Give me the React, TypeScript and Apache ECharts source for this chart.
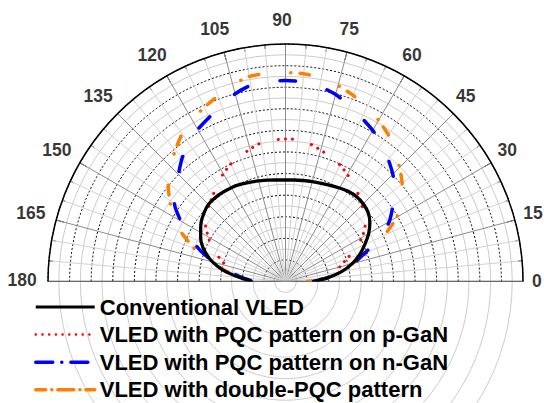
import React, { useEffect, useRef } from 'react';
import * as echarts from 'echarts';

// Angles (deg) at which the intensity curves are read
const anglesFull = [0, 5, 10, 15, 20, 25, 30, 35, 40, 45, 50, 55, 60, 65, 70, 75, 80, 85, 90,
  95, 100, 105, 110, 115, 120, 125, 130, 135, 140, 145, 150, 155, 160, 165, 170, 175, 180];
const anglesP = [15, 20, 25, 30, 35, 40, 45, 50, 55, 60, 65, 70, 75, 80, 85, 90,
  95, 100, 105, 110, 115, 120, 125, 130, 135, 140, 145, 150, 155, 160, 165];

// Relative intensity (radial units, outer ring = 11)
const conventional = [1.25, 1.95, 2.64, 3.2, 3.66, 4.05, 4.45, 4.77, 4.99, 5.09, 5.13, 5.09, 5.0,
  4.91, 4.84, 4.79, 4.75, 4.72, 4.7, 4.72, 4.77, 4.82, 4.89, 4.96, 5.02, 5.05, 5.07, 5.05, 4.93,
  4.77, 4.54, 4.31, 3.95, 3.5, 2.9, 2.13, 1.53];
const pGaN = [2.6, 3.0, 3.55, 4.1, 4.5, 4.8, 5.0, 5.25, 5.5, 5.73, 5.96, 6.13, 6.3, 6.48, 6.6, 6.6,
  6.58, 6.52, 6.35, 6.15, 6.0, 5.76, 5.5, 5.22, 5.0, 4.8, 4.52, 4.13, 3.75, 3.28, 2.85];
const nGaN = [1.3, 1.95, 2.6, 3.27, 3.95, 4.85, 5.55, 6.07, 6.6, 7.03, 7.4, 7.78, 8.08, 8.36, 8.67,
  8.97, 9.17, 9.28, 9.31, 9.3, 9.23, 9.0, 8.66, 8.38, 8.13, 7.83, 7.45, 7.02, 6.66, 6.28, 5.6, 4.9,
  4.2, 3.42, 2.65, 2.0, 1.49];
const doublePQC = [1.05, 1.75, 2.5, 3.2, 4.2, 5.05, 5.95, 6.5, 7.05, 7.47, 7.88, 8.3, 8.62, 8.9, 9.17,
  9.4, 9.57, 9.66, 9.68, 9.68, 9.64, 9.44, 9.15, 8.9, 8.65, 8.35, 7.94, 7.55, 7.1, 6.55, 6.0, 5.3,
  4.5, 3.65, 2.8, 1.95, 1.34];

// Angle tick labels (placed on a ring just outside the plot)
const tickAngles = [0, 15, 30, 45, 60, 75, 90, 105, 120, 135, 150, 165, 180];
const tickLabelRing = 12.04;

const baselineR = [11, 11];
const baselineA = [180, 0];

const names = [
  'Conventional VLED',
  'VLED with PQC pattern on p-GaN',
  'VLED with PQC pattern on n-GaN',
  'VLED with double-PQC pattern',
];

const FONT = '"Liberation Sans", Arial, Helvetica, sans-serif';

export default function App() {
  const ref = useRef<HTMLDivElement>(null);
  useEffect(() => {
    if (!ref.current) return;
    const chart = echarts.init(ref.current, undefined, { renderer: 'svg' });
    const pair = (rs: number[], as: number[]) => as.map((a, i) => [rs[i], a]);
    const hidden = { color: 'rgba(0,0,0,0)', borderWidth: 0, opacity: 0 };
    chart.setOption({
      animation: false,
      backgroundColor: '#fff',
      polar: { center: [285.5, 281.5], radius: 237.5 },
      angleAxis: {
        type: 'value', min: 0, max: 180, interval: 15,
        startAngle: 0, endAngle: 180, clockwise: false,
        axisLine: { show: true, lineStyle: { color: '#000', width: 1.5 } },
        axisTick: { show: true, inside: true, length: 8, lineStyle: { color: '#000', width: 1 } },
        minorTick: { show: true, splitNumber: 3, length: 4, lineStyle: { color: '#000', width: 1 } },
        axisLabel: { show: false },
        splitLine: { show: true, lineStyle: { color: '#8c8c8c', width: 1 } },
        minorSplitLine: { show: true, lineStyle: { color: '#d2d2d2', width: 1 } },
      },
      radiusAxis: {
        type: 'value', min: 0, max: 11, interval: 1,
        axisLine: { show: false }, axisTick: { show: false }, axisLabel: { show: false },
        splitLine: { show: true, lineStyle: { color: '#000', width: 1, type: [2, 2] } },
        minorTick: { show: false, splitNumber: 2 },
        minorSplitLine: { show: true, lineStyle: { color: '#cccccc', width: 1 } },
      },
      legend: {
        type: 'plain', orient: 'vertical', left: 29, top: 291, height: 112,
        itemWidth: 59, itemHeight: 14, itemGap: 5.6,
        selectedMode: false,
        itemStyle: hidden,
        textStyle: { fontSize: 22, lineHeight: 20, fontWeight: 'bold', fontFamily: FONT, color: '#000' },
        data: [
          { name: names[0], itemStyle: hidden, lineStyle: { color: '#000', width: 3, type: 'solid' } },
          { name: names[1], itemStyle: hidden, lineStyle: { color: '#ff0000', width: 2.5, type: [0.1, 6.6], cap: 'round' } },
          { name: names[2], itemStyle: hidden, lineStyle: { color: '#0000ff', width: 3.5, type: [17, 9, 0.1, 9], cap: 'round' } },
          { name: names[3], itemStyle: hidden, lineStyle: { color: '#ff8000', width: 3.5, type: [16, 6, 0.1, 6], dashOffset: 6, cap: 'round' } },
        ],
      },
      series: [
        {
          name: 'baseline', type: 'line', coordinateSystem: 'polar', symbol: 'none', silent: true,
          data: pair(baselineR, baselineA),
          lineStyle: { color: '#444', width: 1.5 }, z: 1,
        },
        {
          name: names[3], type: 'line', coordinateSystem: 'polar', symbol: 'none', smooth: 0.2,
          data: pair(doublePQC, anglesFull), itemStyle: { color: '#ff8000' },
          lineStyle: { color: '#ff8000', width: 3.5, type: [9.5, 9.2, 0.1, 32.2], dashOffset: 6, cap: 'round' }, z: 3,
        },
        {
          name: names[2], type: 'line', coordinateSystem: 'polar', symbol: 'none', smooth: 0.2,
          data: pair(nGaN, anglesFull), itemStyle: { color: '#0000ff' },
          lineStyle: { color: '#0000ff', width: 3.5, type: [15.5, 33], dashOffset: 0, cap: 'round' }, z: 4,
        },
        {
          name: names[1], type: 'line', coordinateSystem: 'polar', symbol: 'none', smooth: 0.2,
          data: pair(pGaN, anglesP), itemStyle: { color: '#ff0000' },
          lineStyle: { color: '#ff0000', width: 3, type: [0.1, 7, 0.1, 7, 0.1, 20], dashOffset: 0, cap: 'round' }, z: 5,
        },
        {
          name: names[0], type: 'line', coordinateSystem: 'polar', symbol: 'none', smooth: 0.2,
          data: pair(conventional, anglesFull), itemStyle: { color: '#000' },
          lineStyle: { color: '#000', width: 3.3 }, z: 6,
        },
        {
          name: 'angleLabels', type: 'scatter', coordinateSystem: 'polar', clip: false, silent: true,
          symbol: 'circle', symbolSize: 0, itemStyle: { color: 'rgba(0,0,0,0)' }, z: 7,
          data: tickAngles.map((a) => ({
            value: [tickLabelRing, a],
            label: a === 0 ? { offset: [-8.5, -1] } : undefined,
          })),
          label: {
            show: true, position: 'inside', offset: [-3.5, -1.5],
            formatter: (p: any) => String(p.value[1]),
            fontSize: 17.5, fontWeight: 'bold', color: '#000', fontFamily: FONT,
          },
        },
      ],
    });
    return () => chart.dispose();
  }, []);
  return (
    <div
      ref={ref}
      style={{ position: 'fixed', left: 0, top: 0, width: 544, height: 403, background: '#fff' }}
    />
  );
}
